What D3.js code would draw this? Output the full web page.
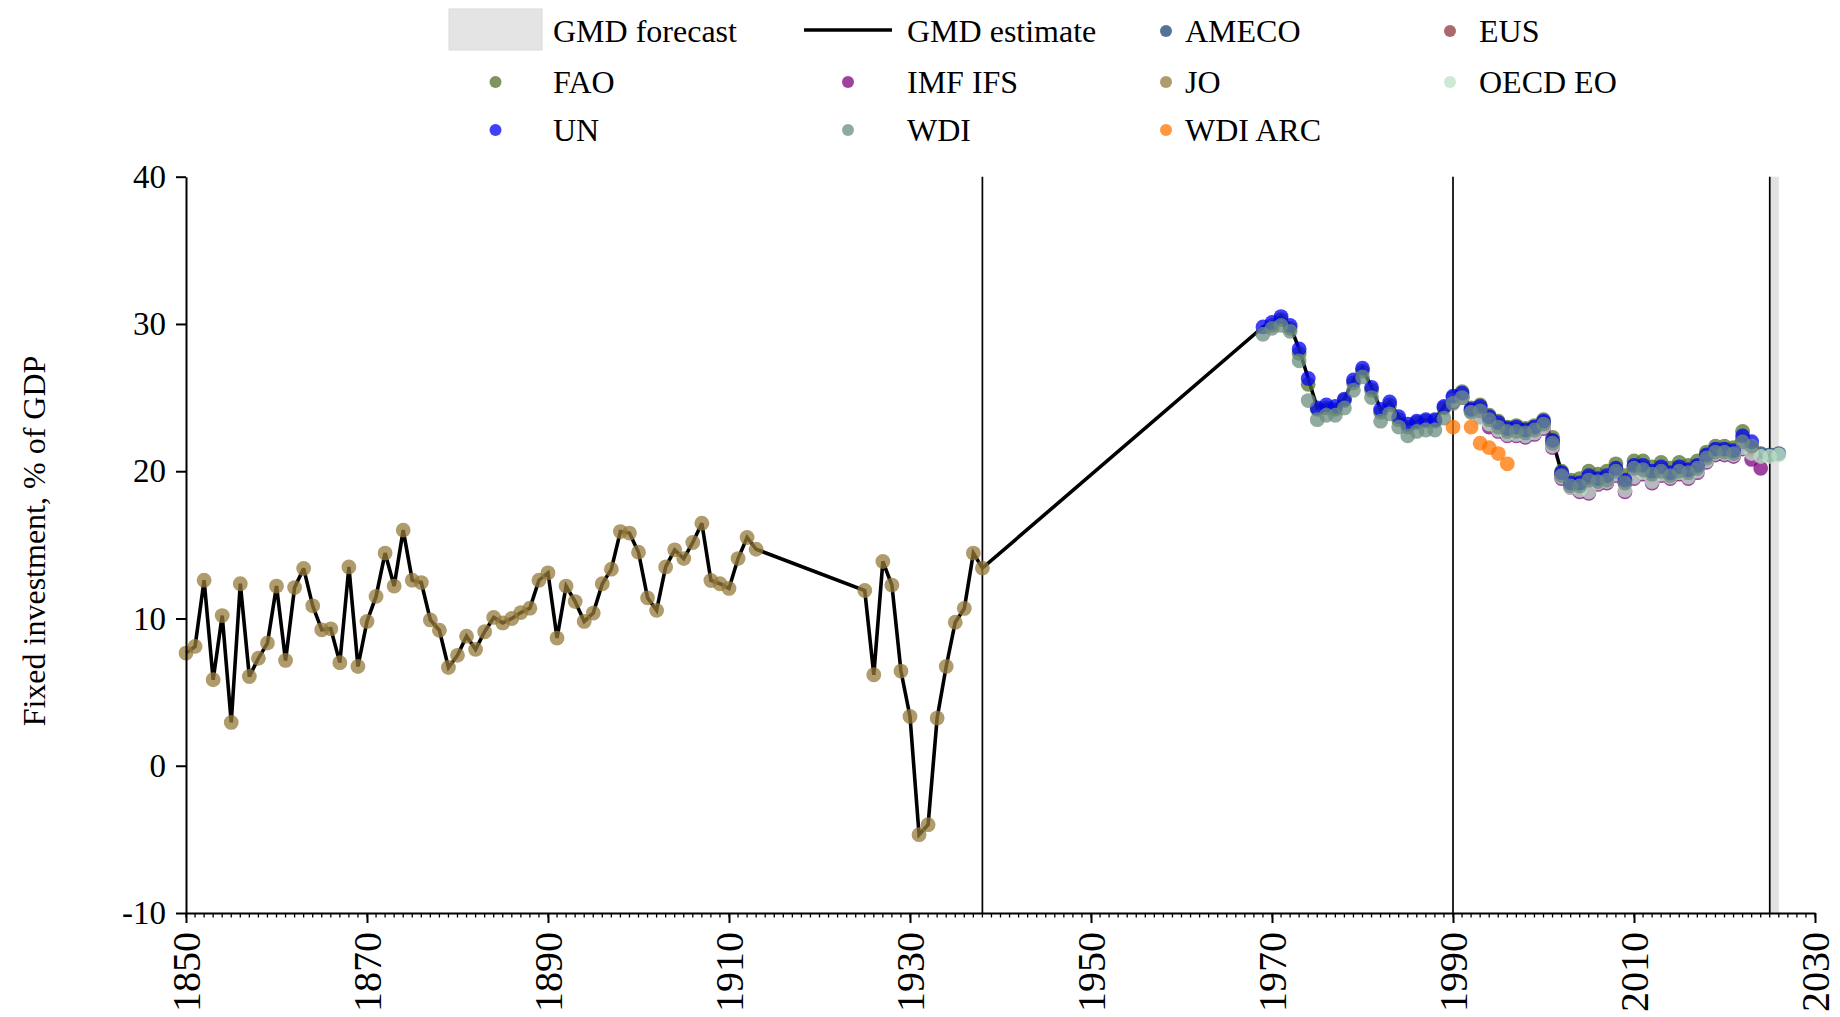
<!DOCTYPE html>
<html>
<head>
<meta charset="utf-8">
<script src="https://cdn.jsdelivr.net/npm/d3@7"></script>
<style>
  html, body { margin: 0; padding: 0; background: #fff; }
  svg { display: block; }
  text { font-family: "Liberation Serif", "Times New Roman", serif; fill: #000; }
</style>
</head>
<body>
<svg id="chart" width="1840" height="1017"></svg>
<script>
// ---------------- DATA ----------------
const yTicks = [-10, 0, 10, 20, 30, 40];
const xTicks = [1850, 1870, 1890, 1910, 1930, 1950, 1970, 1990, 2010, 2030];
const breakYears = [1938, 1990, 2025];
const forecastRange = [2025, 2026];
const yTitle = "Fixed investment, % of GDP";

// JO (historical source), two blocks
const joStartA = 1850;
const joValuesA = [7.65, 8.1, 12.6, 5.84, 10.2, 2.94, 12.36, 6.06, 7.3, 8.33,
  12.2, 7.15, 12.1, 13.4, 10.86, 9.23, 9.3, 7.0, 13.5, 6.74,
  9.8, 11.5, 14.44, 12.2, 16.0, 12.6, 12.44, 9.9, 9.2, 6.67,
  7.5, 8.8, 7.9, 9.1, 10.07, 9.7, 10.0, 10.4, 10.7, 12.6,
  13.1, 8.67, 12.2, 11.15, 9.8, 10.37, 12.36, 13.35, 15.9, 15.8,
  14.5, 11.4, 10.55, 13.5, 14.66, 14.07, 15.16, 16.47, 12.58, 12.36,
  12.04, 14.07, 15.5, 14.7];
const joStartB = 1925;
const joValuesB = [11.9, 6.18, 13.87, 12.27, 6.43, 3.35, -4.68, -4.0, 3.24, 6.74,
  9.75, 10.68, 14.44, 13.42];

// GMD estimate after the gap
const gmdLateStart = 1969;
const gmdLateValues = [29.8, 30.1, 30.5, 29.9, 28.3, 26.3, 24.3, 24.5, 24.4, 24.9,
  26.2, 27.0, 25.7, 24.2, 24.7, 23.7, 23.2, 23.4, 23.5, 23.5,
  24.4, 25.1, 25.3, 24.2, 24.4, 23.7, 23.3, 22.9, 23.0, 22.8,
  23.0, 23.4, 22.1, 19.9, 19.2, 19.2, 19.7, 19.5, 19.7, 20.2,
  19.4, 20.4, 20.4, 20.0, 20.3, 19.9, 20.3, 20.1, 20.4, 21.1,
  21.5, 21.5, 21.4, 22.4, 22.0, 21.0, 21.1];

const amecoStart = 1991;
const amecoValues = [25.0, 24.1, 24.2, 23.5, 23.1, 22.8, 22.8, 22.7, 22.9, 23.3,
  22.0, 19.8, 19.1, 19.1, 19.5, 19.4, 19.5, 20.1, 19.3, 20.3,
  20.2, 19.9, 20.1, 19.8, 20.1, 20.0, 20.3, 21.0, 21.4, 21.4,
  21.3, 22.1, 21.6, 21.2, 21.1, 21.2];

const eusStart = 1995;
const eusValues = [23.0, 22.7, 22.7, 22.6, 22.8, 23.2, 21.9, 19.7, 19.0, 19.0,
  19.4, 19.3, 19.4, 20.0, 19.2, 20.2, 20.1, 19.8, 20.0, 19.7,
  20.0, 19.9, 20.2, 20.9, 21.3, 21.3, 21.2, 22.0, 21.5];

const faoStart = 1970;
const faoValues = [29.9, 30.3, 29.7, 28.0, 25.9, 24.2, 24.3, 24.2, 24.8, 26.0,
  26.8, 25.5, 24.0, 24.5, 23.5, 23.0, 23.3, 23.4, 23.4, 24.3,
  25.0, 25.4, 24.3, 24.5, 23.8, 23.4, 23.0, 23.1, 22.9, 23.1,
  23.5, 22.3, 20.0, 19.4, 19.5, 20.0, 19.8, 20.0, 20.5, 19.7,
  20.7, 20.7, 20.3, 20.6, 20.2, 20.6, 20.4, 20.7, 21.3, 21.7,
  21.7, 21.6, 22.7];

const imfStart = 1990;
const imfValues = [24.7, 25.0, 24.1, 23.7, 23.0, 22.7, 22.4, 22.4, 22.3, 22.5,
  22.9, 21.6, 19.5, 18.9, 18.6, 18.5, 19.1, 19.2, 19.7, 18.6,
  19.5, 19.8, 19.2, 19.7, 19.5, 19.8, 19.5, 19.9, 20.6, 21.1,
  21.1, 21.0, 21.5, 20.8, 20.2];

const oecdStart = 1990;
const oecdValues = [24.8, 25.0, 24.0, 23.6, 23.2, 22.8, 22.5, 22.5, 22.4, 22.6,
  23.0, 21.7, 19.6, 18.9, 18.7, 18.6, 19.2, 19.3, 19.8, 18.7,
  19.6, 19.9, 19.3, 19.8, 19.6, 19.9, 19.6, 20.0, 20.7, 21.2,
  21.2, 21.1, 21.6, 21.2, 21.0, 21.0, 21.1];

const unStart = 1969;
const unValues = [29.8, 30.1, 30.5, 29.9, 28.3, 26.3, 24.3, 24.5, 24.4, 24.9,
  26.2, 27.0, 25.7, 24.2, 24.7, 23.7, 23.2, 23.4, 23.5, 23.5,
  24.4, 25.1, 25.3, 24.2, 24.4, 23.7, 23.3, 22.9, 23.0, 22.8,
  23.0, 23.4, 22.1, 19.9, 19.2, 19.2, 19.7, 19.5, 19.7, 20.2,
  19.4, 20.4, 20.4, 20.0, 20.3, 19.9, 20.3, 20.1, 20.4, 21.1,
  21.5, 21.5, 21.4, 22.4, 22.0];

const wdiStart = 1969;
const wdiValues = [29.3, 29.7, 29.9, 29.5, 27.5, 24.8, 23.5, 23.8, 23.8, 24.3,
  25.5, 26.4, 25.0, 23.4, 23.9, 23.0, 22.4, 22.7, 22.8, 22.8,
  23.6, 24.6, 25.0, 24.0, 24.1, 23.5, 23.0, 22.7, 22.7, 22.6,
  22.8, 23.2, 21.9, 19.7, 19.0, 19.0, 19.4, 19.3, 19.4, 20.0,
  19.2, 20.2, 20.1, 19.8, 20.0, 19.7, 20.0, 19.9, 20.2, 20.9,
  21.3, 21.3, 21.2, 22.0, 21.7];

const wdiArcYears = [1990, 1992, 1993, 1994, 1995, 1996];
const wdiArcValues = [23.0, 23.0, 21.9, 21.6, 21.2, 20.5];

const sourceNames = ["AMECO", "EUS", "FAO", "IMF IFS", "JO", "OECD EO", "UN", "WDI", "WDI ARC"];
const sourceColors = ["#1c4473", "#8d373d", "#517329", "#800180", "#94793a", "#bce0c5", "#0000f8", "#6c8d80", "#ff7300"];

// ---------------- BUILD ----------------
const seq = (start, vals) => vals.map((v, i) => ({ year: start + i, value: v }));
const pairs = (ys, vals) => vals.map((v, i) => ({ year: ys[i], value: v }));

const joPoints = seq(joStartA, joValuesA).concat(seq(joStartB, joValuesB));
const gmdPoints = joPoints.concat(seq(gmdLateStart, gmdLateValues));

const sourceData = {
  "AMECO": seq(amecoStart, amecoValues),
  "EUS": seq(eusStart, eusValues),
  "FAO": seq(faoStart, faoValues),
  "IMF IFS": seq(imfStart, imfValues),
  "JO": joPoints,
  "OECD EO": seq(oecdStart, oecdValues),
  "UN": seq(unStart, unValues),
  "WDI": seq(wdiStart, wdiValues),
  "WDI ARC": pairs(wdiArcYears, wdiArcValues)
};
const color = d3.scaleOrdinal().domain(sourceNames).range(sourceColors);

const svg = d3.select("#chart");
svg.append("rect").attr("width", 1840).attr("height", 1017).attr("fill", "#fff");

const x = d3.scaleLinear().domain([1850, 2030]).range([186, 1815]);
const y = d3.scaleLinear().domain([-10, 40]).range([913, 176.7]);

const DOT_R = 7.4, DOT_OP = 0.75;

// forecast band
svg.append("rect")
  .attr("x", x(forecastRange[0])).attr("width", x(forecastRange[1]) - x(forecastRange[0]))
  .attr("y", y(40)).attr("height", y(-10) - y(40))
  .attr("fill", "#e2e2e2");

// break lines
svg.append("g").selectAll("line").data(breakYears).join("line")
  .attr("x1", d => x(d)).attr("x2", d => x(d))
  .attr("y1", y(40)).attr("y2", y(-10))
  .attr("stroke", "#000").attr("stroke-width", 1.7);

// GMD line
svg.append("path").datum(gmdPoints)
  .attr("fill", "none").attr("stroke", "#000").attr("stroke-width", 3.6)
  .attr("stroke-linejoin", "miter").attr("stroke-miterlimit", 3)
  .attr("d", d3.line().x(d => x(d.year)).y(d => y(d.value)));

// dots
sourceNames.forEach(name => {
  svg.append("g").selectAll("circle").data(sourceData[name]).join("circle")
    .attr("cx", d => x(d.year)).attr("cy", d => y(d.value)).attr("r", DOT_R)
    .attr("fill", color(name)).attr("fill-opacity", DOT_OP);
});

// y axis
const yAxis = svg.append("g").attr("transform", `translate(${x(1850)},0)`)
  .call(d3.axisLeft(y).tickValues(yTicks).tickSize(10).tickSizeOuter(0).tickPadding(10).tickFormat(d => String(d)));
yAxis.select(".domain").attr("stroke-width", 2);
yAxis.selectAll(".tick line").attr("stroke-width", 2);
yAxis.selectAll(".tick text").attr("font-size", 33).attr("font-family", "Liberation Serif");

// x axis
const xAxis = svg.append("g").attr("transform", `translate(0,${y(-10)})`)
  .call(d3.axisBottom(x).tickValues(xTicks).tickSize(10).tickSizeOuter(0).tickFormat(""));
xAxis.select(".domain").attr("stroke-width", 2);
xAxis.selectAll(".tick line").attr("stroke-width", 2);
xAxis.append("g").selectAll("line").data(d3.range(1850, 2031)).join("line")
  .attr("x1", d => x(d)).attr("x2", d => x(d)).attr("y1", 0).attr("y2", 4.5)
  .attr("stroke", "#000").attr("stroke-width", 1.3);
svg.append("g").selectAll("text").data(xTicks).join("text")
  .attr("transform", d => `translate(${x(d)},${y(-10) + 19}) rotate(-90)`)
  .attr("text-anchor", "end").attr("dominant-baseline", "central")
  .attr("font-size", 40).text(d => d);

// y title
svg.append("text")
  .attr("transform", `translate(45,541) rotate(-90)`)
  .attr("text-anchor", "middle").attr("font-size", 32).text(yTitle);

// ---------------- LEGEND ----------------
const legFont = 32;
const rowY = [31, 82, 130];
const lg = svg.append("g");
// GMD forecast
lg.append("rect").attr("x", 449).attr("y", 9).attr("width", 93).attr("height", 41)
  .attr("fill", "#e4e4e4").attr("stroke", "#dadada").attr("stroke-width", 1);
lg.append("text").attr("x", 553).attr("y", rowY[0] + 10.5).attr("font-size", legFont).text("GMD forecast");
// GMD estimate
lg.append("line").attr("x1", 804).attr("x2", 892).attr("y1", 30).attr("y2", 30)
  .attr("stroke", "#000").attr("stroke-width", 3.5);
lg.append("text").attr("x", 907).attr("y", rowY[0] + 10.5).attr("font-size", legFont).text("GMD estimate");

const legendItems = [
  { name: "AMECO", dx: 1166, tx: 1185, row: 0 },
  { name: "EUS", dx: 1450, tx: 1479, row: 0 },
  { name: "FAO", dx: 495.5, tx: 553, row: 1 },
  { name: "IMF IFS", dx: 848, tx: 907, row: 1 },
  { name: "JO", dx: 1166, tx: 1185, row: 1 },
  { name: "OECD EO", dx: 1450, tx: 1479, row: 1 },
  { name: "UN", dx: 495.5, tx: 553, row: 2 },
  { name: "WDI", dx: 848, tx: 907, row: 2 },
  { name: "WDI ARC", dx: 1166, tx: 1185, row: 2 }
];
legendItems.forEach(it => {
  lg.append("circle").attr("cx", it.dx).attr("cy", rowY[it.row]).attr("r", 6)
    .attr("fill", color(it.name)).attr("fill-opacity", DOT_OP);
  lg.append("text").attr("x", it.tx).attr("y", rowY[it.row] + 10.5)
    .attr("font-size", legFont).text(it.name);
});
</script>
</body>
</html>
